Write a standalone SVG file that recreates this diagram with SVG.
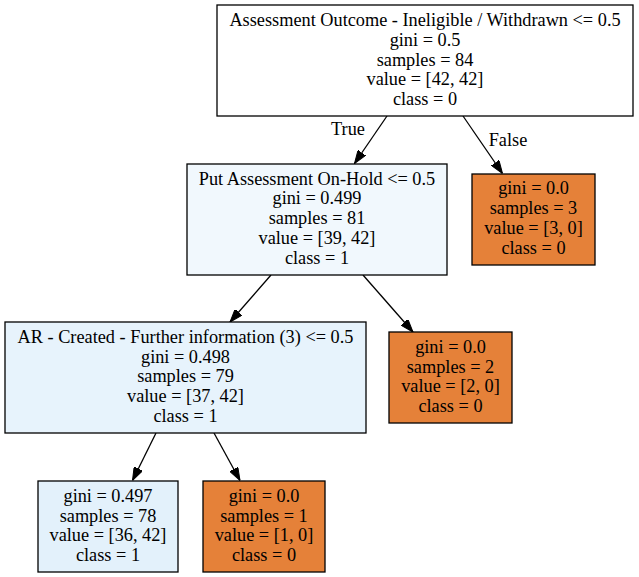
<svg xmlns="http://www.w3.org/2000/svg" width="639" height="577" viewBox="0 0 639 577">
<style>
text{font-family:"Liberation Serif","Times New Roman",serif;font-size:18.3px;fill:#000;text-anchor:middle}
.box{stroke:#000;stroke-width:1.3}
.edge{stroke:#000;stroke-width:1.3;fill:none}
</style>
<defs>
<marker id="arr" viewBox="0 0 13 9.2" refX="13" refY="4.6" markerWidth="13" markerHeight="9.2" markerUnits="userSpaceOnUse" orient="auto">
<path d="M0,0 L13,4.6 L0,9.2 z" fill="#000" stroke="#000" stroke-width="1"/>
</marker>
</defs>
<rect width="639" height="577" fill="#fff"/>
<g id="connectors">
<path class="edge" d="M387,116 L354.5,163.5" marker-end="url(#arr)"/>
<text x="348" y="135">True</text>
<path class="edge" d="M463,116 L502.5,173.5" marker-end="url(#arr)"/>
<text x="508" y="146">False</text>
<path class="edge" d="M271,275 L230,322" marker-end="url(#arr)"/>
<path class="edge" d="M363,275 L413,332" marker-end="url(#arr)"/>
<path class="edge" d="M156,433 L132.5,480.5" marker-end="url(#arr)"/>
<path class="edge" d="M214,433 L240,480.5" marker-end="url(#arr)"/>
</g>
<g id="node0">
<rect class="box" x="217" y="5" width="416" height="111" fill="#ffffff"/>
<text x="425" y="26">Assessment Outcome - Ineligible / Withdrawn &lt;= 0.5</text>
<text x="425" y="45.8">gini = 0.5</text>
<text x="425" y="65.6">samples = 84</text>
<text x="425" y="85.4">value = [42, 42]</text>
<text x="425" y="105.2">class = 0</text>
</g>
<g id="node1">
<rect class="box" x="187" y="164" width="260" height="111" fill="#f1f8fd"/>
<text x="317" y="184.5">Put Assessment On-Hold &lt;= 0.5</text>
<text x="317" y="204.3">gini = 0.499</text>
<text x="317" y="224.1">samples = 81</text>
<text x="317" y="243.9">value = [39, 42]</text>
<text x="317" y="263.7">class = 1</text>
</g>
<g id="node2">
<rect class="box" x="472" y="174" width="123" height="91" fill="#e58139"/>
<text x="533.5" y="194.3">gini = 0.0</text>
<text x="533.5" y="214.1">samples = 3</text>
<text x="533.5" y="233.9">value = [3, 0]</text>
<text x="533.5" y="253.7">class = 0</text>
</g>
<g id="node3">
<rect class="box" x="5" y="322" width="361" height="111" fill="#e7f3fc"/>
<text x="185.5" y="342.7">AR - Created - Further information (3) &lt;= 0.5</text>
<text x="185.5" y="362.5">gini = 0.498</text>
<text x="185.5" y="382.3">samples = 79</text>
<text x="185.5" y="402.1">value = [37, 42]</text>
<text x="185.5" y="421.9">class = 1</text>
</g>
<g id="node4">
<rect class="box" x="389" y="332" width="123" height="91" fill="#e58139"/>
<text x="450.5" y="352.7">gini = 0.0</text>
<text x="450.5" y="372.5">samples = 2</text>
<text x="450.5" y="392.3">value = [2, 0]</text>
<text x="450.5" y="412.1">class = 0</text>
</g>
<g id="node5">
<rect class="box" x="38" y="481" width="140" height="91" fill="#e3f1fb"/>
<text x="108" y="501.7">gini = 0.497</text>
<text x="108" y="521.5">samples = 78</text>
<text x="108" y="541.3">value = [36, 42]</text>
<text x="108" y="561.1">class = 1</text>
</g>
<g id="node6">
<rect class="box" x="203" y="481" width="122" height="91" fill="#e58139"/>
<text x="264" y="501.7">gini = 0.0</text>
<text x="264" y="521.5">samples = 1</text>
<text x="264" y="541.3">value = [1, 0]</text>
<text x="264" y="561.1">class = 0</text>
</g>
</svg>
